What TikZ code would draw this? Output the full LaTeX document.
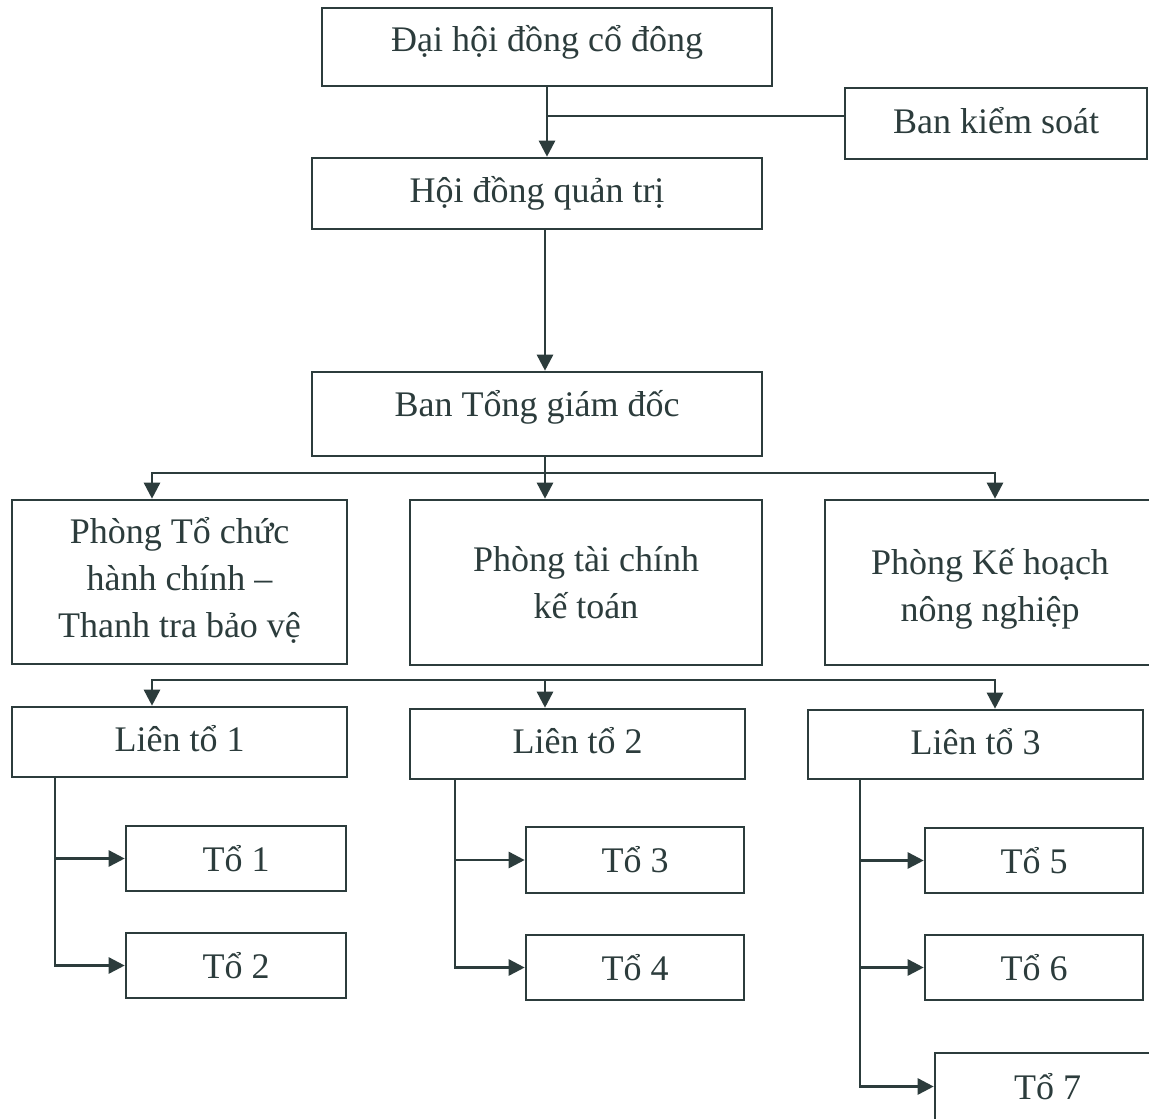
\documentclass[tikz,border=0pt]{standalone}
\usepackage{fontspec}
\setmainfont{Liberation Serif}
\usetikzlibrary{arrows.meta}
\definecolor{ink}{RGB}{44,60,60}
\newcommand\mylift[2]{\raisebox{#1}[\height][\depth]{#2}}
\begin{document}
\begin{tikzpicture}[x=1pt,y=-1pt,
  box/.style={draw=ink, line width=2.6pt, inner sep=0pt, text=ink,
    font=\fontsize{36}{47}\selectfont, align=center},
  conn/.style={draw=ink, line width=2.6pt},
  arr/.style={conn, -{Triangle[length=16pt,width=16pt]}}]
\useasboundingbox (0,0) rectangle (1149,1119);
\fill[white] (0,0) rectangle (1149,1119);

% top level
\node[box, minimum width=450pt, minimum height=78pt] (dhd) at (547,47) {\mylift{5pt}{Đại hội đồng cổ đông}};
\node[box, minimum width=302pt, minimum height=71pt] (bks) at (996,123.5) {\mylift{3pt}{Ban kiểm soát}};
\node[box, minimum width=450pt, minimum height=71pt] (hdqt) at (537,193.5) {Hội đồng quản trị};
\node[box, minimum width=450pt, minimum height=84pt] (btgd) at (537,414) {\mylift{7pt}{Ban Tổng giám đốc}};

% departments
\node[box, minimum width=335pt, minimum height=164pt] (p1) at (179.5,582) {\mylift{2pt}{\parbox{330pt}{\centering Phòng Tổ chức\\hành chính --\\Thanh tra bảo vệ}}};
\node[box, minimum width=352pt, minimum height=165pt] (p2) at (586,582.5) {Phòng tài chính\\kế toán};
\node[box, minimum width=330pt, minimum height=165pt] (p3) at (990,582.5) {\mylift{-6pt}{\parbox{320pt}{\centering Phòng Kế hoạch\\nông nghiệp}}};

% team unions
\node[box, minimum width=335pt, minimum height=70pt] (l1) at (179.5,742) {\mylift{3pt}{Liên tổ 1}};
\node[box, minimum width=335pt, minimum height=70pt] (l2) at (577.5,744) {\mylift{3pt}{Liên tổ 2}};
\node[box, minimum width=335pt, minimum height=69pt] (l3) at (975.5,744.5) {\mylift{3pt}{Liên tổ 3}};

% teams
\node[box, minimum width=220pt, minimum height=65pt] (t1) at (236,858.5) {Tổ 1};
\node[box, minimum width=220pt, minimum height=65pt] (t2) at (236,965.5) {Tổ 2};
\node[box, minimum width=218pt, minimum height=66pt] (t3) at (635,860) {Tổ 3};
\node[box, minimum width=218pt, minimum height=65pt] (t4) at (635,967.5) {Tổ 4};
\node[box, minimum width=218pt, minimum height=65pt] (t5) at (1034,860.5) {Tổ 5};
\node[box, minimum width=218pt, minimum height=65pt] (t6) at (1034,967.5) {Tổ 6};
\node[box, minimum width=225pt, minimum height=67pt] (t7) at (1047.5,1086.5) {Tổ 7};

% helper coordinates
\coordinate (b1) at (545,473);
\coordinate (b1l) at (152,473);
\coordinate (b1r) at (995,473);
\coordinate (b2) at (545,680);
\coordinate (v1) at (55,800);
\coordinate (v2) at (455,800);
\coordinate (v3) at (860,800);

% connectors
\draw[arr] (dhd.south) -- (hdqt.north -| dhd.south);
\draw[conn] ([yshift=7.5pt]bks.west) -- ([yshift=7.5pt]bks.west -| dhd.south);
\draw[arr] (hdqt.south -| b1) -- (btgd.north -| b1);

\draw[conn] (btgd.south -| b1) -- (b1);
\draw[arr] (b1) -| (p1.north -| b1l);
\draw[arr] (b1) -- (p2.north -| b1);
\draw[arr] (b1) -| (p3.north -| b1r);

\draw[arr] (b2) -| (l1.north -| b1l);
\draw[arr] (b2) -- (l2.north -| b2);
\draw[arr] (b2) -| (l3.north -| b1r);

\draw[arr] (l1.south -| v1) |- (t1.west);
\draw[arr] (l1.south -| v1) |- (t2.west);
\draw[arr] (l2.south -| v2) |- (t3.west);
\draw[arr] (l2.south -| v2) |- (t4.west);
\draw[arr] (l3.south -| v3) |- (t5.west);
\draw[arr] (l3.south -| v3) |- (t6.west);
\draw[arr] (l3.south -| v3) |- (t7.west);
\end{tikzpicture}
\end{document}
